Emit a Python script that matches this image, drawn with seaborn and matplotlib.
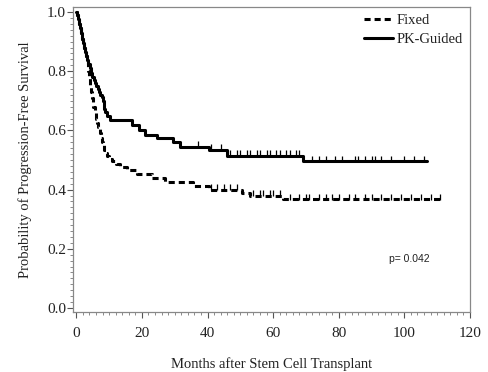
import numpy as np
import pandas as pd
import matplotlib
matplotlib.use("Agg")
import matplotlib.pyplot as plt
from matplotlib.ticker import MultipleLocator
import seaborn as sns

# Kaplan-Meier step estimates (months, survival probability)
fixed_time = [0, 0.3, 0.6, 0.9, 1.2, 1.5, 1.8, 2.1, 2.4, 2.7, 3.0, 3.3, 3.6,
              3.9, 4.2, 4.5, 4.8, 5.2, 5.6, 6.0, 6.4, 6.7, 7.1, 7.5, 7.9,
              8.2, 8.6, 9.0, 9.4, 9.9, 10.9, 12, 13.3, 15.5, 18.5, 23, 27,
              35.5, 40.5, 50.5, 53, 63, 111]
fixed_surv = [1.0, 0.99, 0.975, 0.96, 0.945, 0.93, 0.91, 0.895, 0.88, 0.865,
              0.85, 0.838, 0.80, 0.78, 0.755, 0.73, 0.71, 0.68, 0.66, 0.64,
              0.625, 0.61, 0.59, 0.575, 0.56, 0.55, 0.535, 0.525, 0.515,
              0.505, 0.495, 0.485, 0.476, 0.466, 0.452, 0.44, 0.425, 0.412,
              0.40, 0.39, 0.38, 0.368, 0.368]
pk_time = [0, 0.3, 0.6, 0.9, 1.2, 1.5, 1.8, 2.1, 2.4, 2.7, 3.0, 3.3, 3.7,
           4.1, 4.5, 4.9, 5.3, 5.7, 6.1, 6.5, 6.9, 7.3, 7.7, 8.2, 8.4, 8.6,
           8.8, 9.3, 10.3, 17, 19, 21, 24.5, 29.5, 31.5, 40.5, 46, 69, 107]
pk_surv = [1.0, 0.99, 0.975, 0.96, 0.945, 0.93, 0.91, 0.895, 0.88, 0.865,
           0.85, 0.838, 0.825, 0.81, 0.795, 0.78, 0.77, 0.76, 0.75, 0.74,
           0.73, 0.72, 0.712, 0.70, 0.685, 0.672, 0.662, 0.65, 0.635, 0.618,
           0.60, 0.585, 0.575, 0.56, 0.545, 0.535, 0.515, 0.495, 0.495]

# Censoring times
fixed_censor = [41, 43, 45, 47, 49, 54, 56, 57, 59, 60, 62, 65, 68, 70, 71,
                74, 76, 78, 80, 83, 85, 88, 90, 93, 96, 99, 102, 105, 108, 111]
pk_censor = [37, 41, 44, 47, 49, 50, 52, 53, 55, 56, 58, 59, 61, 62, 64, 65,
             67, 68, 72, 74, 76, 79, 81, 85, 86, 88, 90, 91, 93, 96, 100,
             103, 106]

groups = ["Fixed", "PK-Guided"]
p_text = "p= 0.042"


def surv_at(times, surv, t):
    idx = np.searchsorted(times, t, side="right") - 1
    return surv[idx]


sns.set_theme(style="white")
plt.rcParams["font.family"] = ["Liberation Serif", "DejaVu Serif"]

fig = plt.figure(figsize=(4.88, 3.72), dpi=100)
ax = fig.add_axes([0.1496, 0.1613, 0.8134, 0.8199])

curves = pd.concat([
    pd.DataFrame({"month": fixed_time, "surv": fixed_surv, "group": groups[0]}),
    pd.DataFrame({"month": pk_time, "surv": pk_surv, "group": groups[1]}),
])

sns.lineplot(data=curves, x="month", y="surv", hue="group", style="group",
             hue_order=groups, style_order=groups,
             palette=["black", "black"], dashes={groups[0]: (2.0, 1.3), groups[1]: ""},
             drawstyle="steps-post", linewidth=2.2, estimator=None, sort=False,
             ax=ax, legend=True)

censor = pd.concat([
    pd.DataFrame({"month": fixed_censor,
                  "surv": [surv_at(np.array(fixed_time), np.array(fixed_surv), t) + 0.008
                           for t in fixed_censor],
                  "group": groups[0]}),
    pd.DataFrame({"month": pk_censor,
                  "surv": [surv_at(np.array(pk_time), np.array(pk_surv), t) + 0.008
                           for t in pk_censor],
                  "group": groups[1]}),
])
sns.scatterplot(data=censor, x="month", y="surv", marker="|", s=22,
                color="black", linewidth=0.9, ax=ax, legend=False)

ax.set_xlim(-1, 120)
ax.set_ylim(-0.0135, 1.017)
ax.xaxis.set_major_locator(MultipleLocator(20))
ax.xaxis.set_minor_locator(MultipleLocator(2))
ax.yaxis.set_major_locator(MultipleLocator(0.2))
ax.yaxis.set_minor_locator(MultipleLocator(0.02))
ax.set_xticklabels([f"{int(v)}" for v in ax.get_xticks()])
ax.set_yticks(np.arange(0, 1.01, 0.2))
ax.set_yticklabels([f"{v:.1f}" for v in np.arange(0, 1.01, 0.2)])

ax.tick_params(axis="both", which="major", direction="out", length=4,
               width=0.8, color="#555555", labelsize=11, labelcolor="#222222")
ax.tick_params(axis="both", which="minor", direction="out", length=2.2,
               width=0.6, color="#777777")
ax.tick_params(axis="x", which="major", pad=7)
ax.tick_params(axis="y", which="major", pad=1)
ax.tick_params(bottom=True, left=True, which="both")

for side in ["top", "right", "left", "bottom"]:
    ax.spines[side].set_visible(True)
    ax.spines[side].set_color("#888888")
    ax.spines[side].set_linewidth(0.9)

ax.set_xlabel("Months after Stem Cell Transplant", fontsize=10.5,
              color="#222222", labelpad=12)
ax.set_ylabel("Probability of Progression-Free Survival", fontsize=10.5,
              color="#222222", labelpad=11)

leg = ax.legend(loc="upper right", frameon=False, fontsize=10.5,
                handlelength=2.0, handletextpad=0.2, borderaxespad=0.1,
                labelspacing=0.35)
for txt in leg.get_texts():
    txt.set_color("#222222")

ax.text(0.795, 0.165, p_text, transform=ax.transAxes, fontsize=7.5,
        family=["Liberation Sans", "DejaVu Sans"], color="#222222")

fig.savefig("out.png", dpi=100)
